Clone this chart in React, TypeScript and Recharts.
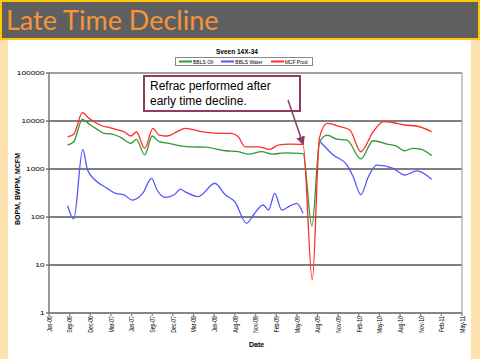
import { LineChart, Line, XAxis, YAxis, CartesianGrid, ReferenceLine, Label } from "recharts";

// x positions are months after Jun-06
const tickLabels = [
  "Jun-06", "Sep-06", "Dec-06", "Mar-07", "Jun-07", "Sep-07", "Dec-07",
  "Mar-08", "Jun-08", "Aug-08", "Nov-08", "Feb-09", "May-09", "Aug-09",
  "Nov-09", "Feb-10", "May-10", "Aug-10", "Nov-10", "Feb-11", "May-11",
];
const yTicks = [1, 10, 100, 1000, 10000, 100000];

const oilMonth = [2.7, 3.6, 4.85, 5.8, 7.0, 8.0, 9.2, 10.4, 11.9, 12.7, 13.9, 15.0, 16.0, 17.4, 19.4, 20.5, 22.7, 25.6, 27.5, 29.0, 30.9, 32.4, 34.3, 36.9, 38.2, 39.3, 40.4, 41.8, 43.3, 45.3, 47.1, 49.1, 50.5, 51.6, 52.9, 54.1, 55.6];
const oilBopm = [3160, 3700, 10800, 8700, 6700, 5540, 5350, 4570, 3430, 4160, 1960, 4870, 3700, 3430, 3000, 2900, 2850, 2400, 2300, 2050, 2300, 2050, 2160, 2100, 65, 3600, 5100, 4200, 4000, 1620, 3880, 3310, 3000, 2400, 2700, 2570, 1900];

const waterMonth = [2.7, 3.6, 4.9, 5.6, 6.7, 8.4, 9.7, 10.9, 12.1, 13.6, 14.9, 15.7, 16.9, 18.2, 19.1, 19.8, 21.7, 24.1, 25.6, 27.0, 28.7, 29.7, 31.1, 31.9, 32.8, 33.8, 35.0, 36.0, 36.9, 38.2, 39.4, 41.3, 43.3, 44.2, 45.3, 46.4, 47.6, 50.0, 51.7, 53.4, 55.6];
const waterBwpm = [172, 91, 2570, 950, 590, 400, 310, 290, 225, 310, 640, 365, 257, 290, 380, 335, 265, 505, 290, 208, 74, 110, 178, 140, 310, 140, 170, 193, 120, null, 3700, 1960, 1210, 690, 290, 690, 1210, 1030, 750, 910, 610];

const gasMonth = [2.7, 3.6, 4.85, 5.8, 6.8, 7.75, 8.7, 9.7, 10.9, 11.9, 12.7, 13.9, 15.1, 16.0, 17.2, 18.6, 19.8, 22.2, 24.6, 26.5, 27.5, 28.5, 30.4, 32.1, 33.3, 34.8, 36.9, 38.25, 39.3, 40.4, 42.3, 43.7, 45.3, 47.1, 48.6, 50.5, 51.7, 53.4, 55.6];
const gasMcfm = [4700, 5300, 14900, 11400, 9200, 7870, 7380, 6700, 5980, 4870, 5900, 2700, 7000, 5100, 4870, 5980, 7040, 5980, 5540, 5540, 4700, 2900, 2900, 2570, 3160, 3310, 3250, 4.9, 4500, 8900, 7600, 6500, 2290, 5980, 9700, 8950, 8250, 7870, 5980];

const series = [
  { name: "BBLS Oil", color: "#2f9a2f", month: oilMonth, value: oilBopm },
  { name: "BBLS Water", color: "#5555ff", month: waterMonth, value: waterBwpm },
  { name: "MCF Prod", color: "#ff2b2b", month: gasMonth, value: gasMcfm },
];

const FONT = "'Liberation Sans', Arial, sans-serif";

const XTick = (props: any) => {
  const { x, payload } = props;
  return (
    <text
      transform={`translate(${x + 2.8},316) scale(1,0.65) rotate(-90)`}
      textAnchor="end"
      fontSize={8}
      fontFamily={FONT}
      fill="#000"
    >
      {tickLabels[Math.round(payload.value / 3)]}
    </text>
  );
};

const YTick = (props: any) => {
  const { y, payload } = props;
  return (
    <text
      transform={`translate(44.5,${y + 1.6}) scale(1,0.6)`}
      textAnchor="end"
      fontSize={8.3}
      fontFamily={FONT}
      fill="#000"
    >
      {payload.value}
    </text>
  );
};

export default function App() {
  return (
    <div style={{ position: "fixed", left: 0, top: 0, width: 480, height: 359, background: "#fde2ad", overflow: "hidden" }}>
      <div style={{ position: "absolute", left: 8, top: 40, width: 463, height: 319, background: "#fff" }} />
      <div
        style={{
          position: "absolute", left: 0, top: 0, width: 480, height: 40, boxSizing: "border-box",
          background: "#5f5f5f", border: "2px solid #ffc800",
        }}
      >
        <div style={{ position: "absolute", left: 4, top: 0, fontFamily: "Lato, sans-serif", fontSize: 27, lineHeight: "36px", color: "#f7943a" }}>
          Late Time Decline
        </div>
      </div>

      <div style={{ position: "absolute", left: 0, top: 0 }}>
        <LineChart width={480} height={359} margin={{ top: 73, right: 18, left: 0, bottom: 0 }}>
          <CartesianGrid horizontal vertical={false} stroke="#555" strokeWidth={1.3} />
          <XAxis
            type="number"
            dataKey="month"
            domain={[0, 60]}
            ticks={tickLabels.map((_, i) => i * 3)}
            allowDataOverflow
            height={46}
            stroke="#888"
            strokeWidth={1.3}
            tickSize={3}
            tick={<XTick />}
            interval={0}
          >
            <Label
              content={() => (
                <text x={249} y={347} fontSize={7} fontWeight="bold" fontFamily={FONT} fill="#000">Date</text>
              )}
            />
          </XAxis>
          <YAxis
            scale="log"
            domain={[1, 100000]}
            ticks={yTicks}
            allowDataOverflow
            width={49}
            stroke="#777"
            strokeWidth={1.5}
            tickSize={3}
            tick={<YTick />}
            interval={0}
          >
            <Label
              content={() => (
                <text transform="translate(20,189) rotate(-90)" textAnchor="middle" fontSize={7} fontWeight="bold" fontFamily={FONT} fill="#000">
                  BOPM, BWPM, MCFM
                </text>
              )}
            />
          </YAxis>
          <ReferenceLine y={100000} stroke="#aaa" strokeWidth={1.3} />
          <ReferenceLine x={60} stroke="#aaa" strokeWidth={1.3} />
          {series.map((s) => (
            <Line
              key={s.name}
              name={s.name}
              data={s.month.map((m, i) => ({ month: m, value: s.value[i] }))}
              dataKey="value"
              type="monotone"
              stroke={s.color}
              strokeWidth={1.3}
              dot={false}
              isAnimationActive={false}
            />
          ))}
        </LineChart>
      </div>

      {/* chart title + legend */}
      <div style={{ position: "absolute", left: 187, top: 48, width: 100, textAlign: "center", fontFamily: FONT, fontWeight: "bold", fontSize: 6.5, lineHeight: "8px" }}>
        Sveen 14X-34
      </div>
      <div
        style={{
          position: "absolute", left: 175, top: 57, width: 138, height: 9, boxSizing: "border-box",
          border: "1px solid #888", background: "#fff", display: "flex", alignItems: "center",
          fontFamily: FONT, fontSize: 5, whiteSpace: "nowrap",
        }}
      >
        {series.map((s) => (
          <div key={s.name} style={{ display: "flex", alignItems: "center", marginLeft: 3, marginRight: 5 }}>
            <svg width={13} height={3} style={{ marginRight: 1 }}>
              <line x1={0} y1={1.5} x2={13} y2={1.5} stroke={s.color} strokeWidth={2} />
            </svg>
            <span>{s.name}</span>
          </div>
        ))}
      </div>

      {/* annotation */}
      <div
        style={{
          position: "absolute", left: 143, top: 75, width: 158, height: 37, boxSizing: "border-box",
          border: "2px solid #8c3a66", background: "#fff", fontFamily: FONT, fontSize: 12, lineHeight: "15px",
          padding: "2px 0 0 5px", color: "#000",
        }}
      >
        Refrac performed after
        <br />
        early time decline.
      </div>
      <svg width={480} height={359} style={{ position: "absolute", left: 0, top: 0, pointerEvents: "none" }}>
        <defs>
          <marker id="ah" markerWidth="6" markerHeight="6" refX="5" refY="3" orient="auto">
            <path d="M0,0 L6,3 L0,6 z" fill="#8c3a66" />
          </marker>
        </defs>
        <line x1={288} y1={100} x2={303} y2={144} stroke="#8c3a66" strokeWidth={1.5} markerEnd="url(#ah)" />
      </svg>
    </div>
  );
}
